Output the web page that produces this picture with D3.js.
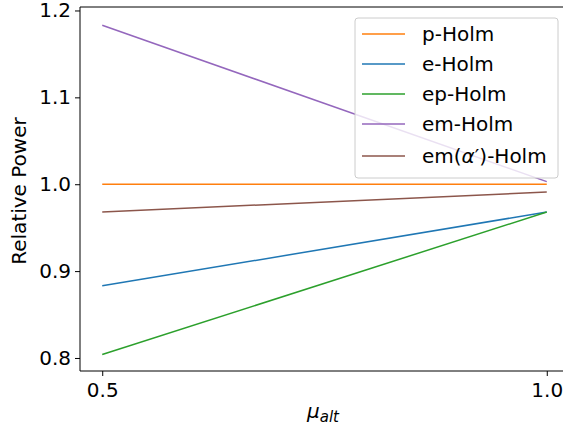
<!DOCTYPE html>
<html>
<head>
<meta charset="utf-8">
<script src="https://cdn.jsdelivr.net/npm/d3@7"></script>
<style>
  body { margin: 0; background: #fff; }
  text { font-family: "DejaVu Sans", sans-serif; fill: #000; }
</style>
</head>
<body>
<svg id="chart" width="563" height="430"></svg>
<script>
// values
var muAlt = [0.5, 1.0];
var seriesNames = ["p-Holm", "e-Holm", "ep-Holm", "em-Holm", "em(α′)-Holm"];
var seriesColors = ["#ff7f0e", "#1f77b4", "#2ca02c", "#9467bd", "#8c564b"];
var pHolm = [1.0, 1.0];
var eHolm = [0.883, 0.968];
var epHolm = [0.804, 0.968];
var emHolm = [1.183, 1.003];
var emAlphaHolm = [0.968, 0.991];
var seriesValues = [pHolm, eHolm, epHolm, emHolm, emAlphaHolm];
var yTicks = [0.8, 0.9, 1.0, 1.1, 1.2];
var xTicks = [0.5, 1.0];

var svg = d3.select("#chart");
var plotLeft = 80, plotTop = 7, plotBottom = 371, plotRight = 569;

var x = d3.scaleLinear().domain([0.475, 1.025]).range([plotLeft, plotRight]);
var y = d3.scaleLinear().domain([0.785, 1.204]).range([plotBottom, plotTop]);

// lines
var line = d3.line()
    .x(function(d, i) { return x(muAlt[i]); })
    .y(function(d) { return y(d); });

for (var s = 0; s < seriesValues.length; s++) {
    svg.append("path")
        .datum(seriesValues[s])
        .attr("d", line)
        .style("fill", "none")
        .style("stroke", seriesColors[s])
        .style("stroke-width", 1.5);
}

// axes
var xAxis = svg.append("g")
    .attr("transform", "translate(0," + plotBottom + ")")
    .call(d3.axisBottom(x).tickValues(xTicks).tickFormat(d3.format(".1f")).tickSizeOuter(0).tickSize(5));
var yAxis = svg.append("g")
    .attr("transform", "translate(" + plotLeft + ",0)")
    .call(d3.axisLeft(y).tickValues(yTicks).tickFormat(d3.format(".1f")).tickSizeOuter(0).tickSize(5));

xAxis.select(".domain").remove();
yAxis.select(".domain").remove();
svg.selectAll(".tick line").style("stroke", "#000").style("stroke-width", 1);
xAxis.selectAll(".tick text").attr("dy", null).attr("y", 26).style("font-size", "20px");
yAxis.selectAll(".tick text").attr("x", -9).style("font-size", "20px");

// frame
svg.append("path")
    .attr("d", "M" + plotLeft + "," + plotTop + "H" + plotRight + "M" + plotLeft + "," + plotTop + "V" + plotBottom + "H" + plotRight)
    .style("fill", "none")
    .style("stroke", "#000")
    .style("stroke-width", 1);

// labels
svg.append("text")
    .attr("transform", "translate(26,191) rotate(-90)")
    .attr("text-anchor", "middle")
    .style("font-size", "20px")
    .text("Relative Power");

var xl = svg.append("text")
    .attr("x", 323)
    .attr("y", 418)
    .attr("text-anchor", "middle")
    .style("font-size", "20px");
xl.append("tspan").style("font-style", "italic").text("μ");
xl.append("tspan").attr("dy", 4).style("font-size", "15px").style("font-style", "italic").text("alt");

// legend
var legend = svg.append("g").attr("transform", "translate(355,18)");
legend.append("rect")
    .attr("width", 203)
    .attr("height", 160)
    .attr("rx", 3)
    .style("fill", "#fff")
    .style("fill-opacity", 0.8)
    .style("stroke", "#ccc")
    .style("stroke-width", 1);

var rowY = [16, 46, 76, 106, 138];
seriesNames.forEach(function(name, i) {
    legend.append("line")
        .attr("x1", 7).attr("x2", 50)
        .attr("y1", rowY[i]).attr("y2", rowY[i])
        .style("stroke", seriesColors[i])
        .style("stroke-width", 1.5);
    var t = legend.append("text")
        .attr("x", 67)
        .attr("y", rowY[i])
        .attr("dy", "0.35em")
        .style("font-size", "20px");
    if (i == 4) {
        t.append("tspan").text("em(");
        t.append("tspan").style("font-style", "italic").text("α");
        t.append("tspan").text("′)-Holm");
    } else {
        t.text(name);
    }
});
</script>
</body>
</html>
